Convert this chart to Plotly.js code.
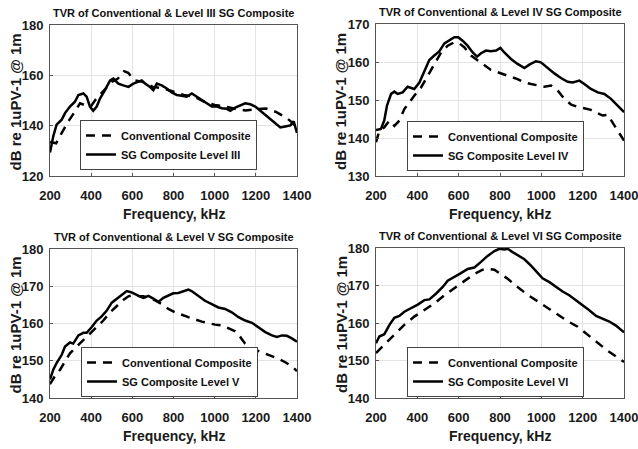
<!DOCTYPE html>
<html>
<head>
<meta charset="utf-8">
<script src="https://cdn.plot.ly/plotly-3.0.1.min.js"></script>
<style>
  html, body { margin: 0; padding: 0; background: #fff; }
  #chart { width: 638px; height: 449px; }
</style>
</head>
<body>
<div id="chart"></div>
<script>
// Transmitting voltage response (dB re 1uPa/V @ 1m) versus frequency (kHz)

// Level III
const freqConv3 = [200,230,257,289,321,346,375,400,420,450,480,500,530,560,580,610,650,700,750,800,850,900,950,1000,1050,1100,1150,1200,1250,1300,1350,1380,1400];
const tvrConv3  = [133.5,133,137.1,141.7,145.6,148.9,148,147.8,150.2,152.8,155.4,157.4,158.7,161.6,161,158,157.4,155.4,154.8,153.5,152.2,151.5,149.5,148.2,147.6,146.7,146,146.5,146.8,145.4,143,141,139];
const freqSg3   = [200,216,232,257,273,297,321,338,362,378,394,410,427,443,467,492,508,532,556,581,605,630,646,662,686,702,719,743,767,791,816,840,864,889,913,937,962,986,1011,1035,1059,1076,1100,1124,1148,1173,1197,1222,1246,1270,1295,1319,1343,1368,1384,1400];
const tvrSg3    = [129.3,135.8,140.4,142.4,145,147.6,149.5,152.2,152.8,151.5,147.6,145.9,147.6,150.8,154.1,158,158.7,156.7,156,155.4,156.7,157.4,158,156.7,155.4,154.1,156.7,156,154.8,153.2,152.2,151.9,151.5,152.8,151.5,150.2,148.9,147.6,147.6,146.9,146.7,145.9,147.2,148.2,148.9,148.5,147.6,145.9,144.3,142.7,141,139.3,139.7,140.1,141.7,137.1];

// Level IV
const freqConv4 = [200,216,240,265,289,313,337,361,385,418,450,482,515,547,579,603,627,660,692,724,756,789,821,853,885,918,950,982,1015,1047,1079,1111,1144,1176,1208,1240,1273,1297,1321,1345,1369,1400];
const tvrConv4  = [138.9,141.9,142.8,144.6,143.2,144.6,147.6,149.4,151.1,153.3,156.4,159.5,162.5,164.3,165.2,164.9,163.9,161.7,160.4,159,157.9,157.3,156.8,156.1,155.5,154.6,154.2,153.8,153.5,153.8,152.5,150.3,148.8,148.2,147.9,147.4,146.5,145.9,146.1,144.1,141.9,139.3];
const freqSg4   = [200,224,240,253,273,289,305,329,353,369,385,410,434,458,482,506,531,555,579,598,619,643,668,689,708,732,756,781,802,821,853,885,918,942,974,998,1031,1063,1095,1127,1152,1184,1208,1240,1273,1305,1337,1369,1400];
const tvrSg4    = [142.1,142.4,144.6,148.5,151.6,152.2,151.6,152,153.5,153.3,152.9,154.6,157.7,160.5,161.7,162.8,164.9,165.6,166.5,166.5,165.6,164.3,162.5,161.4,162.3,163,162.8,163,163.7,162.5,160.8,159.5,158.4,159.3,160.2,159.9,158.4,157,155.8,154.8,154.6,155.1,154.2,152.9,152,151.6,150.3,148.5,146.8];

// Level V
const freqConv5 = [200,224,249,273,297,330,362,394,427,459,492,524,556,581,605,630,654,678,711,743,775,808,840,872,905,937,970,1002,1035,1067,1100,1124,1148,1181,1213,1246,1278,1311,1343,1375,1400];
const tvrConv5  = [143.7,145.9,147.6,149.8,152,153.8,155.5,157.3,159,160.8,163,164.7,166.3,167.3,167.6,167.4,167.3,166.9,166.2,165.2,163.9,163,162.3,161.7,161.1,160.5,160.1,159.7,159.5,158.8,157.9,156.4,154.6,153.3,152.6,152,151.1,150.5,149.6,148.5,147.2];
const freqSg5   = [200,216,232,257,273,297,313,338,362,378,402,427,451,475,500,524,548,573,594,613,638,654,678,702,726,751,775,799,824,848,872,888,921,953,986,1018,1051,1083,1116,1148,1181,1213,1246,1278,1302,1327,1351,1375,1400];
const tvrSg5    = [145,147.6,149.4,151.6,153.8,154.9,154.6,156.8,157.5,157.5,159,160.8,161.9,163.4,165.6,166.7,167.8,168.7,168.4,167.8,167.2,166.9,167.4,166.7,165.8,166.9,167.5,168.1,168.2,168.7,169.1,168.7,167.4,166.1,165.2,164.3,163.9,163,161.7,160.8,160.2,159,157.7,156.8,156.4,156.8,156.7,156,155.1];

// Level VI
const freqConv6 = [200,240,289,337,385,434,482,531,579,627,676,716,748,773,805,837,885,934,982,1031,1079,1127,1176,1224,1273,1321,1361,1400];
const tvrConv6  = [152,154.2,157,159.5,161.7,163.4,165.2,167.4,169.3,171.3,173.1,174.2,174.4,174.2,173.1,171.8,169.6,167.5,165.8,164,162.1,160.5,159,156.8,154.6,152.6,151.1,149.6];
const freqSg6   = [200,216,240,265,289,313,337,369,402,434,458,490,523,547,579,611,644,676,708,740,773,797,821,837,861,894,918,950,982,1006,1039,1071,1103,1135,1168,1200,1232,1265,1297,1329,1361,1400];
const tvrSg6    = [154.6,156.4,157,159.5,161.4,161.9,163,163.9,164.9,166.1,166.3,167.8,169.6,171.3,172.2,173.3,174.4,174.8,176.3,177.9,179.2,179.8,179.6,179.8,178.9,177.9,177,175.3,173.3,171.9,170.9,169.6,168.4,167.4,166.1,164.7,163.4,161.9,161.1,160.4,159.3,157.5];

const levels      = ['III', 'IV', 'V', 'VI'];
const yRanges     = [[120, 180], [130, 170], [140, 180], [140, 180]];
const yDticks     = [20, 10, 10, 10];
const xTickVals   = [200, 400, 600, 800, 1000, 1200, 1400];
const convLabel   = 'Conventional Composite';
const sgLabelBase = 'SG Composite Level ';
const xTitle      = 'Frequency, kHz';
const yTitle      = 'dB re 1uPV-1 @ 1m';

const convX = [freqConv3, freqConv4, freqConv5, freqConv6];
const convY = [tvrConv3, tvrConv4, tvrConv5, tvrConv6];
const sgX   = [freqSg3, freqSg4, freqSg5, freqSg6];
const sgY   = [tvrSg3, tvrSg4, tvrSg5, tvrSg6];

const W = 638, H = 449;
// plot boxes in pixels: [left, right, top, bottom]
const boxes = [
  [50, 297, 25, 176],
  [376, 624, 24, 176],
  [50, 297, 249, 398],
  [376, 624, 248, 398]
];
// legend box top-left corners in pixels
const legendPos = [[80, 120], [407, 121], [81, 347], [407, 347]];

const FONT = 'Arial, "Liberation Sans", sans-serif';
const traces = [];
const layout = {
  width: W, height: H,
  margin: {l: 0, r: 0, t: 0, b: 0},
  paper_bgcolor: '#fff', plot_bgcolor: '#fff',
  font: {family: FONT, color: '#000', weight: 'bold'},
  annotations: [],
  showlegend: true
};

levels.forEach((lv, i) => {
  const n = i === 0 ? '' : String(i + 1);
  const xa = 'x' + n, ya = 'y' + n;
  const lg = 'legend' + n;
  traces.push({
    x: convX[i], y: convY[i], xaxis: xa, yaxis: ya, legend: lg,
    type: 'scatter', mode: 'lines', name: convLabel,
    line: {color: '#000', width: 2.5, dash: '9px,7px'}
  });
  traces.push({
    x: sgX[i], y: sgY[i], xaxis: xa, yaxis: ya, legend: lg,
    type: 'scatter', mode: 'lines', name: sgLabelBase + lv,
    line: {color: '#000', width: 2.5}
  });

  const [l, r, t, b] = boxes[i];
  const axCommon = {
    showline: true, mirror: true, linecolor: '#555', linewidth: 1,
    showgrid: true, gridcolor: '#e3e3e3', gridwidth: 1,
    ticks: 'inside', ticklen: 3, tickcolor: '#555',
    zeroline: false, fixedrange: true,
    tickfont: {family: FONT, size: 13, color: '#1a1a1a', weight: 'bold'}
  };
  layout['xaxis' + n] = Object.assign({}, axCommon, {
    domain: [l / W, r / W], anchor: ya,
    range: [200, 1400], tickvals: xTickVals,
    ticklabelstandoff: 7, ticklabeloverflow: 'allow'
  });
  layout['yaxis' + n] = Object.assign({}, axCommon, {
    domain: [1 - b / H, 1 - t / H], anchor: xa,
    range: yRanges[i], dtick: yDticks[i], tick0: yRanges[i][0],
    ticklabelstandoff: 3, ticklabeloverflow: 'allow'
  });

  const [lx, ly] = legendPos[i];
  layout[lg] = {
    x: lx / W, y: 1 - ly / H, xanchor: 'left', yanchor: 'top',
    xref: 'paper', yref: 'paper',
    bgcolor: '#fff', bordercolor: '#444', borderwidth: 1,
    font: {family: FONT, size: 11, color: '#111', weight: 'bold'},
    itemwidth: 30, tracegroupgap: 0
  };

  const cx = (l + r) / 2;
  layout.annotations.push({
    text: 'TVR of Conventional &amp; Level ' + lv + ' SG Composite',
    x: cx / W, y: 1 - (t - 12) / H, xref: 'paper', yref: 'paper',
    xanchor: 'center', yanchor: 'middle', showarrow: false,
    font: {family: FONT, size: 11, color: '#111', weight: 'bold'}
  });
  layout.annotations.push({
    text: xTitle,
    x: cx / W, y: 1 - (b + 38) / H, xref: 'paper', yref: 'paper',
    xanchor: 'center', yanchor: 'middle', showarrow: false,
    font: {family: FONT, size: 14, color: '#1a1a1a', weight: 'bold'}
  });
  layout.annotations.push({
    text: yTitle, textangle: -90,
    x: (l - 35) / W, y: 1 - ((t + b) / 2 + 2) / H, xref: 'paper', yref: 'paper',
    xanchor: 'center', yanchor: 'middle', showarrow: false,
    font: {family: FONT, size: 15, color: '#1a1a1a', weight: 'bold'}
  });
});

Plotly.newPlot('chart', traces, layout, {staticPlot: true, displayModeBar: false});
</script>
</body>
</html>
